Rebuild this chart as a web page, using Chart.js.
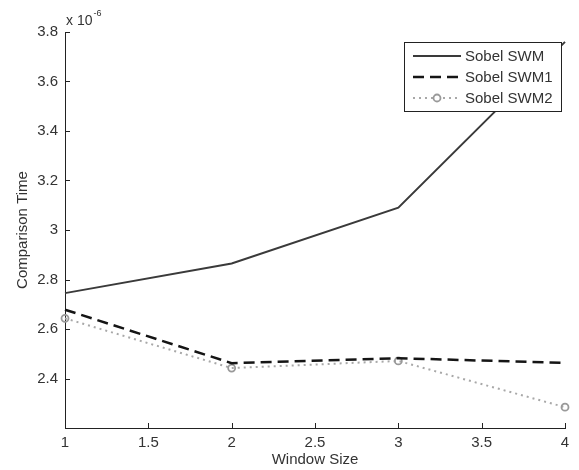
<!DOCTYPE html>
<html><head><meta charset="utf-8">
<script src="https://cdn.jsdelivr.net/npm/chart.js@4/dist/chart.umd.min.js"></script>
<style>html,body{margin:0;padding:0;background:#fff}#wrap{width:579px;height:470px}</style>
</head><body><div id="wrap"><canvas id="c" width="579" height="470"></canvas></div>
<script>
const windowSizes = [1, 2, 3, 4];
const sobelSWM  = [2.745, 2.865, 3.09, 3.76];
const sobelSWM1 = [2.678, 2.462, 2.482, 2.463];
const sobelSWM2 = [2.643, 2.442, 2.471, 2.284];
const seriesNames = ['Sobel SWM', 'Sobel SWM1', 'Sobel SWM2'];
const xTicks = [1, 1.5, 2, 2.5, 3, 3.5, 4];
const yTicks = [2.4, 2.6, 2.8, 3, 3.2, 3.4, 3.6, 3.8];

const FONT = 'Liberation Sans, Arial, sans-serif';
const TXT = '#333';

const pts = arr => windowSizes.map((x, i) => ({x, y: arr[i]}));

const styles = [
  {color:'#3a3a3a', width:2, dash:[], marker:false},
  {color:'#151515', width:2.5, dash:[11,6], marker:false},
  {color:'#a8a8a8', width:2, dash:[2,4], marker:true}
];

const overlay = {
  id:'overlay',
  afterDatasetsDraw(chart){
    const ctx = chart.ctx, xs = chart.scales.x, ys = chart.scales.y, a = chart.chartArea;
    ctx.save();
    ctx.strokeStyle = '#222'; ctx.lineWidth = 1; ctx.setLineDash([]);
    xTicks.forEach(v => { const px = Math.round(xs.getPixelForValue(v)) + 0.5;
      ctx.beginPath(); ctx.moveTo(px, a.bottom); ctx.lineTo(px, a.bottom - 5); ctx.stroke(); });
    yTicks.forEach(v => { const py = Math.round(ys.getPixelForValue(v)) + 0.5;
      ctx.beginPath(); ctx.moveTo(a.left, py); ctx.lineTo(a.left + 5, py); ctx.stroke(); });
    ctx.fillStyle = TXT; ctx.textBaseline = 'alphabetic'; ctx.textAlign = 'left';
    ctx.font = '14px ' + FONT;
    ctx.fillText('x 10', a.left + 1, 25);
    const w = ctx.measureText('x 10').width;
    ctx.font = '9px ' + FONT;
    ctx.fillText('-6', a.left + 1 + w + 1, 16);
    const lx = 404, ly = 42, lw = 157, lh = 69;
    ctx.fillStyle = '#fff'; ctx.fillRect(lx, ly, lw, lh);
    ctx.strokeStyle = '#222'; ctx.lineWidth = 1;
    ctx.strokeRect(lx + 0.5, ly + 0.5, lw, lh);
    const rows = [56, 77, 98];
    seriesNames.forEach((name, i) => {
      const s = styles[i], y = rows[i];
      ctx.strokeStyle = s.color; ctx.lineWidth = s.width; ctx.setLineDash(s.dash);
      ctx.beginPath(); ctx.moveTo(413, y); ctx.lineTo(461, y); ctx.stroke();
      ctx.setLineDash([]);
      if (s.marker) {
        ctx.fillStyle = '#fff'; ctx.beginPath(); ctx.arc(437, y, 3.5, 0, Math.PI*2); ctx.fill();
        ctx.strokeStyle = '#999'; ctx.lineWidth = 1.8; ctx.stroke();
      }
      ctx.fillStyle = TXT; ctx.font = '15px ' + FONT; ctx.textBaseline = 'middle'; ctx.textAlign = 'left';
      ctx.fillText(name, 465, y + 1);
    });
    ctx.restore();
  }
};

const data = [sobelSWM, sobelSWM1, sobelSWM2];
new Chart(document.getElementById('c'), {
  type: 'line',
  data: {
    datasets: data.map((arr, i) => ({
      label: seriesNames[i],
      data: pts(arr),
      borderColor: styles[i].color,
      borderWidth: styles[i].width,
      borderDash: styles[i].dash,
      pointRadius: styles[i].marker ? 3.5 : 0,
      pointBorderColor: '#999',
      pointBackgroundColor: 'rgba(255,255,255,0)',
      pointBorderWidth: 1.8,
      tension: 0,
      fill: false,
      clip: false
    }))
  },
  options: {
    responsive: false,
    animation: false,
    events: [],
    layout: {padding: {left: 0, right: 14, top: 32, bottom: 0}},
    plugins: {legend: {display: false}, tooltip: {enabled: false}},
    scales: {
      x: {
        type: 'linear', min: 1, max: 4,
        afterBuildTicks: s => { s.ticks = xTicks.map(v => ({value: v})); },
        afterFit: s => { s.height = 42; },
        grid: {display: false, drawTicks: false},
        border: {display: true, color: '#222', width: 1},
        ticks: {color: TXT, font: {family: FONT, size: 15}, padding: 6, maxRotation: 0,
                callback: v => String(v)},
        title: {display: true, text: 'Window Size', color: TXT, font: {family: FONT, size: 15},
                padding: {top: 0, bottom: 1}}
      },
      y: {
        type: 'linear', min: 2.2, max: 3.8,
        afterBuildTicks: s => { s.ticks = yTicks.map(v => ({value: v})); },
        afterFit: s => { s.width = 65; },
        grid: {display: false, drawTicks: false},
        border: {display: true, color: '#222', width: 1},
        ticks: {color: TXT, font: {family: FONT, size: 15}, padding: 7,
                callback: v => String(Math.round(v * 10) / 10)},
        title: {display: true, text: 'Comparison Time', color: TXT, font: {family: FONT, size: 15},
                padding: {top: 14, bottom: 0}}
      }
    }
  },
  plugins: [overlay]
});
</script>
</body></html>
